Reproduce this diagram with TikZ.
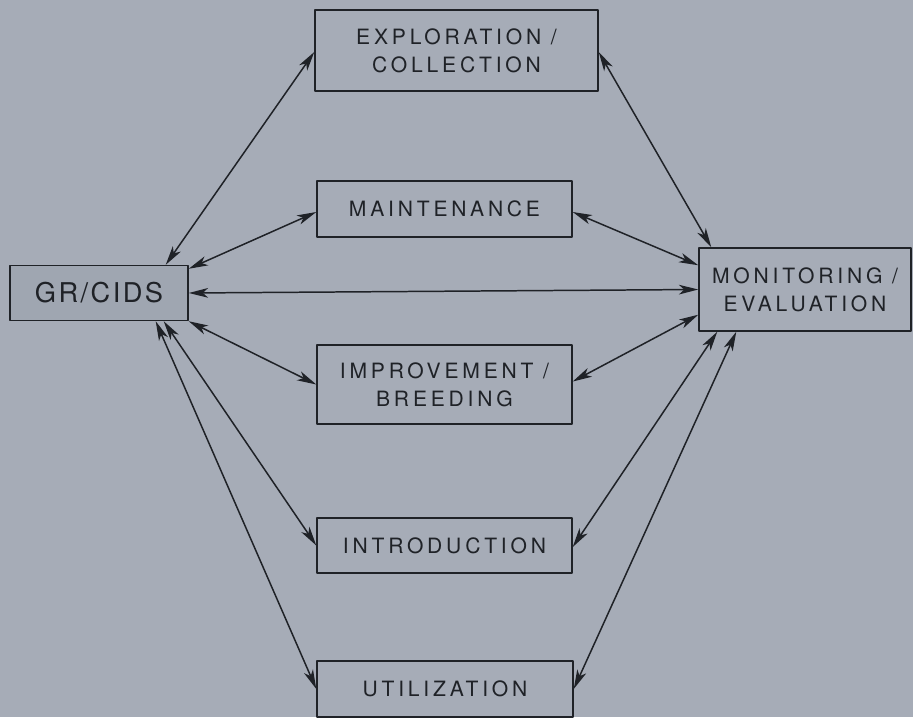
\documentclass[tikz,border=0pt]{standalone}
\usepackage{fontspec}
\usetikzlibrary{calc,arrows.meta}
\newfontfamily\lettering[LetterSpace=18]{TeX Gyre Heros}
\newfontfamily\bigletter[LetterSpace=9]{TeX Gyre Heros}
\definecolor{paper}{HTML}{A6ACB7}
\definecolor{boxfill}{HTML}{9FA6B1}
\definecolor{ink}{HTML}{1F2227}
\tikzstyle{every node}=[font=\lettering\fontsize{12}{16}\selectfont,text=ink]
\tikzstyle{every path}=[line width=0.85pt,line cap=round,line join=round]
\tikzstyle{block}=[draw=ink,align=center,inner sep=0pt]
\tikzstyle{link}=[draw=ink,{Stealth[length=11pt,width=5.5pt,inset=3pt]}-{Stealth[length=11pt,width=5.5pt,inset=3pt]}]

\begin{document}
\begin{tikzpicture}[x=0.02cm,y=-0.02cm]
    % Paper and page size
    \fill[paper] (0,0) rectangle (913,717);
    \useasboundingbox (0,0) rectangle (913,717);

    % The central blocks
    \node[block,minimum width=5.66cm,minimum height=1.62cm] (expl) at (456.5,50.5) {EXPLORATION /\\COLLECTION};
    \node[block,minimum width=5.1cm,minimum height=1.12cm] (maint) at (444.5,209) {MAINTENANCE};
    \node[block,minimum width=5.1cm,minimum height=1.58cm] (impr) at (444.5,384.5) {IMPROVEMENT /\\BREEDING};
    \node[block,minimum width=5.1cm,minimum height=1.1cm] (intro) at (444.5,545.5) {INTRODUCTION};
    \node[block,minimum width=5.12cm,minimum height=1.12cm] (util) at (445,689) {UTILIZATION};

    % Left and right blocks
    \node[block,fill=boxfill,minimum width=3.56cm,minimum height=1.1cm,
        font=\bigletter\fontsize{15.5}{18}\selectfont] (gr) at (99,293) {GR/CIDS};
    \node[block,minimum width=4.24cm,minimum height=1.66cm] (mon) at (805,289.5) {MONITORING /\\EVALUATION};

    % GR/CIDS to the blocks
    \draw[link] ($(gr.north east)+(-23,0)$) -- ($(expl.west)+(0,1.5)$);
    \draw[link] ($(gr.north east)+(0,4)$) -- ($(maint.west)+(0,3)$);
    \draw[link] (gr.east) -- (mon.west);
    \draw[link] (gr.south east) -- (impr.west);
    \draw[link] ($(gr.south east)+(-25,0)$) -- (intro.west);
    \draw[link] ($(gr.south east)+(-33,0)$) -- (util.west);

    % The blocks to monitoring
    \draw[link] ($(expl.east)+(0,1.5)$) -- ($(mon.north west)+(13,0)$);
    \draw[link] ($(maint.east)+(0,3)$) -- ($(mon.north west)+(0,18)$);
    \draw[link] ($(impr.east)+(0,-3)$) -- ($(mon.south west)+(0,-17)$);
    \draw[link] ($(intro.east)+(0,1.5)$) -- ($(mon.south west)+(19,0)$);
    \draw[link] (util.east) -- ($(mon.south west)+(38,0)$);
\end{tikzpicture}
\end{document}
